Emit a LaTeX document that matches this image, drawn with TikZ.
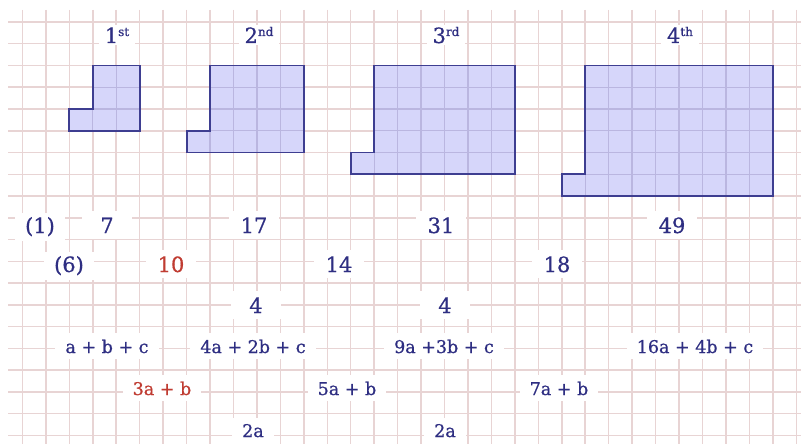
\documentclass[tikz,border=0pt]{standalone}
\usepackage{fontspec}
\setmainfont{DejaVu Serif}[FakeBold=0.7]
\definecolor{gridc}{RGB}{232,212,212}
\definecolor{innergrid}{RGB}{186,182,224}
\definecolor{navy}{RGB}{46,46,130}
\definecolor{redc}{RGB}{192,60,50}
\definecolor{shapefill}{RGB}{214,214,250}
\definecolor{shapeline}{RGB}{62,62,145}
\newcommand{\ordsup}[1]{\raisebox{7pt}{\fontsize{12}{12}\selectfont #1}}
\begin{document}
\begin{tikzpicture}[x=1pt,y=-1pt,
  big/.style={fill=white, text=navy, font=\fontsize{21}{21}\selectfont, anchor=base,
    minimum width=50pt, minimum height=28pt, inner xsep=8pt, inner ysep=2pt},
  small/.style={fill=white, text=navy, font=\fontsize{17.5}{17.5}\selectfont, anchor=base,
    minimum height=26pt, inner xsep=10pt, inner ysep=2pt},
  head/.style={fill=white, text=navy, font=\fontsize{21}{21}\selectfont, anchor=base,
    inner xsep=6pt, inner ysep=2pt},
  hl/.style={text=redc},
  gridline/.style={draw=gridc, line width=1.5pt},
  ingrid/.style={draw=innergrid, line width=1.3pt},
  figfill/.style={fill=shapefill},
  figline/.style={draw=shapeline, line width=1.9pt, line join=miter}]
\useasboundingbox (0,0) rectangle (801,444);
\fill[white] (0,0) rectangle (801,444);
% grid
\foreach \j in {-2,...,31} \draw[gridline] ({69.3+23.45*\j},10) -- ({69.3+23.45*\j},444);
\foreach \k in {0,...,19} \draw[gridline] (8,{22+21.75*\k}) -- (801,{22+21.75*\k});
% figures
\begin{scope}[shift={(69.3,22)}, x=23.45pt, y=-21.75pt]
\foreach \n/\s in {1/0, 2/5, 3/12, 4/21} {
  \pgfmathtruncatemacro{\r}{\s+1+2*\n}
  \pgfmathtruncatemacro{\b}{\n+4}
  \pgfmathtruncatemacro{\m}{\n+3}
  \pgfmathtruncatemacro{\l}{\s+1}
  \fill[figfill] (\l,2) -- (\r,2) -- (\r,\b) -- (\s,\b) -- (\s,\m) -- (\l,\m) -- cycle;
  \begin{scope}
    \clip (\l,2) -- (\r,2) -- (\r,\b) -- (\s,\b) -- (\s,\m) -- (\l,\m) -- cycle;
    \foreach \j in {\s,...,\r} \draw[ingrid] (\j,1) -- (\j,\b+1);
    \foreach \k in {2,...,\b} \draw[ingrid] (\s-1,\k) -- (\r+1,\k);
  \end{scope}
  \draw[figline] (\l,2) -- (\r,2) -- (\r,\b) -- (\s,\b) -- (\s,\m) -- (\l,\m) -- cycle;
}
\end{scope}
% headings
\node[head] (h1) at (117,43) {1\ordsup{st}};
\node[head] (h2) at (259,43) {2\ordsup{nd}};
\node[head] (h3) at (446,43) {3\ordsup{rd}};
\node[head] (h4) at (680,43) {4\ordsup{th}};
% row 1
\node[big] (r1a) at (40,233) {(1)};
\node[big] (r1b) at (107,233) {7};
\node[big] (r1c) at (254,233) {17};
\node[big] (r1d) at (441,233) {31};
\node[big] (r1e) at (672,233) {49};
% row 2
\node[big] (r2a) at (69,272) {(6)};
\node[big,hl] (r2b) at (171,272) {10};
\node[big] (r2c) at (339,272) {14};
\node[big] (r2d) at (557,272) {18};
% row 3
\node[big] (r3a) at (256,313) {4};
\node[big] (r3b) at (445,313) {4};
% row 4
\node[small] (r4a) at (107,353) {a + b + c};
\node[small] (r4b) at (253,353) {4a + 2b + c};
\node[small] (r4c) at (444,353) {9a +3b + c};
\node[small] (r4d) at (695,353) {16a + 4b + c};
% row 5
\node[small,hl] (r5a) at (162,395) {3a + b};
\node[small] (r5b) at (347,395) {5a + b};
\node[small] (r5c) at (559,395) {7a + b};
% row 6
\node[small] (r6a) at (253,437) {2a};
\node[small] (r6b) at (445,437) {2a};
\end{tikzpicture}
\end{document}
